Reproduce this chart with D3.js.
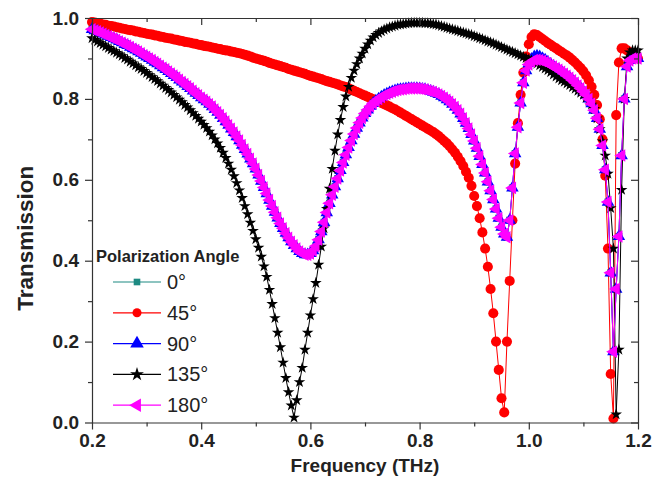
<!DOCTYPE html>
<html>
<head>
<meta charset="utf-8">
<script src="https://cdn.jsdelivr.net/npm/d3@7"></script>
<style>
body { margin: 0; background: #fff; }
svg { display: block; }
text { font-family: Arial, "Liberation Sans", sans-serif; }
</style>
</head>
<body>
<div id="chart"></div>
<script>
// frequency grid (THz)
var freq = [
0.200,0.205,0.210,0.215,0.220,0.225,0.230,0.235,0.240,0.245,
0.250,0.255,0.260,0.265,0.270,0.275,0.280,0.285,0.290,0.295,
0.300,0.305,0.310,0.315,0.320,0.325,0.330,0.335,0.340,0.345,
0.350,0.355,0.360,0.365,0.370,0.375,0.380,0.385,0.390,0.395,
0.400,0.405,0.410,0.415,0.420,0.425,0.430,0.435,0.440,0.445,
0.450,0.455,0.460,0.465,0.470,0.475,0.480,0.485,0.490,0.495,
0.500,0.505,0.510,0.515,0.520,0.525,0.530,0.535,0.540,0.545,
0.550,0.555,0.560,0.565,0.570,0.575,0.580,0.585,0.590,0.595,
0.600,0.605,0.610,0.615,0.620,0.625,0.630,0.635,0.640,0.645,
0.650,0.655,0.660,0.665,0.670,0.675,0.680,0.685,0.690,0.695,
0.700,0.705,0.710,0.715,0.720,0.725,0.730,0.735,0.740,0.745,
0.750,0.755,0.760,0.765,0.770,0.775,0.780,0.785,0.790,0.795,
0.800,0.805,0.810,0.815,0.820,0.825,0.830,0.835,0.840,0.845,
0.850,0.855,0.860,0.865,0.870,0.875,0.880,0.885,0.890,0.895,
0.900,0.905,0.910,0.915,0.920,0.925,0.930,0.935,0.940,0.945,
0.950,0.955,0.960,0.965,0.970,0.975,0.980,0.985,0.990,0.995,
1.000,1.005,1.010,1.015,1.020,1.025,1.030,1.035,1.040,1.045,
1.050,1.055,1.060,1.065,1.070,1.075,1.080,1.085,1.090,1.095,
1.100,1.105,1.110,1.115,1.120,1.125,1.130,1.135,1.140,1.145,
1.150,1.155,1.160,1.165,1.170,1.175,1.180,1.185,1.190,1.195,
1.200];

// 0 deg
var t0 = [
0.972,0.969,0.967,0.964,0.961,0.958,0.955,0.952,0.949,0.946,
0.942,0.939,0.935,0.932,0.928,0.924,0.921,0.917,0.913,0.908,
0.904,0.900,0.896,0.891,0.887,0.882,0.877,0.873,0.868,0.863,
0.858,0.853,0.847,0.842,0.837,0.831,0.826,0.820,0.814,0.809,
0.803,0.798,0.793,0.787,0.781,0.774,0.767,0.760,0.752,0.744,
0.735,0.726,0.717,0.707,0.697,0.686,0.675,0.664,0.652,0.640,
0.627,0.612,0.597,0.581,0.566,0.550,0.535,0.520,0.506,0.492,
0.480,0.468,0.457,0.447,0.438,0.430,0.423,0.418,0.415,0.415,
0.418,0.425,0.436,0.452,0.472,0.495,0.519,0.542,0.563,0.583,
0.603,0.623,0.643,0.662,0.680,0.697,0.713,0.728,0.741,0.753,
0.764,0.773,0.782,0.789,0.795,0.800,0.805,0.809,0.812,0.815,
0.818,0.820,0.822,0.823,0.824,0.825,0.826,0.826,0.826,0.826,
0.825,0.824,0.823,0.821,0.819,0.817,0.814,0.811,0.807,0.803,
0.798,0.793,0.787,0.780,0.772,0.763,0.752,0.740,0.727,0.712,
0.696,0.678,0.658,0.638,0.617,0.595,0.573,0.551,0.528,0.505,
0.483,0.466,0.458,0.500,0.580,0.665,0.730,0.790,0.840,0.870,
0.888,0.898,0.904,0.906,0.904,0.900,0.896,0.891,0.886,0.881,
0.876,0.872,0.867,0.862,0.857,0.852,0.846,0.840,0.833,0.826,
0.818,0.810,0.800,0.788,0.772,0.752,0.725,0.685,0.625,0.545,
0.370,0.175,0.330,0.460,0.660,0.800,0.880,0.895,0.900,0.900,
0.900];

// 45 deg
var t45 = [
0.990,0.989,0.987,0.986,0.984,0.983,0.981,0.980,0.979,0.977,
0.976,0.974,0.973,0.971,0.970,0.969,0.967,0.966,0.964,0.963,
0.961,0.960,0.959,0.957,0.956,0.954,0.953,0.951,0.950,0.949,
0.947,0.946,0.944,0.943,0.941,0.940,0.939,0.937,0.936,0.934,
0.933,0.931,0.930,0.929,0.927,0.926,0.924,0.923,0.921,0.920,
0.919,0.917,0.916,0.914,0.913,0.911,0.909,0.907,0.905,0.902,
0.900,0.898,0.896,0.894,0.892,0.889,0.887,0.885,0.883,0.881,
0.879,0.877,0.874,0.872,0.870,0.868,0.866,0.864,0.862,0.859,
0.857,0.855,0.853,0.851,0.849,0.846,0.844,0.842,0.840,0.838,
0.836,0.833,0.831,0.829,0.826,0.823,0.820,0.817,0.814,0.811,
0.808,0.805,0.802,0.799,0.796,0.793,0.790,0.787,0.784,0.781,
0.777,0.774,0.770,0.766,0.762,0.758,0.754,0.750,0.746,0.742,
0.738,0.734,0.730,0.726,0.722,0.718,0.713,0.708,0.702,0.696,
0.690,0.683,0.675,0.667,0.657,0.646,0.634,0.620,0.605,0.585,
0.560,0.535,0.505,0.470,0.430,0.385,0.330,0.270,0.200,0.130,
0.060,0.025,0.200,0.350,0.500,0.640,0.740,0.810,0.865,0.905,
0.935,0.953,0.960,0.958,0.953,0.948,0.943,0.938,0.934,0.929,
0.925,0.920,0.916,0.911,0.907,0.902,0.896,0.890,0.883,0.876,
0.868,0.858,0.846,0.830,0.810,0.785,0.750,0.700,0.610,0.430,
0.120,0.010,0.760,0.890,0.925,0.925,0.920,0.915,0.910,0.905,
0.900];

// 90 deg
var t90 = [
0.972,0.969,0.967,0.964,0.961,0.958,0.955,0.952,0.949,0.946,
0.942,0.939,0.935,0.932,0.928,0.924,0.921,0.917,0.913,0.908,
0.904,0.900,0.896,0.891,0.887,0.882,0.877,0.873,0.868,0.863,
0.858,0.853,0.847,0.842,0.837,0.831,0.826,0.820,0.814,0.809,
0.803,0.798,0.793,0.787,0.781,0.774,0.767,0.760,0.752,0.744,
0.735,0.726,0.717,0.707,0.697,0.686,0.675,0.664,0.652,0.640,
0.627,0.612,0.597,0.581,0.566,0.550,0.535,0.520,0.506,0.492,
0.480,0.468,0.457,0.447,0.438,0.430,0.423,0.418,0.415,0.415,
0.418,0.425,0.436,0.452,0.472,0.495,0.519,0.542,0.563,0.583,
0.603,0.623,0.643,0.662,0.680,0.697,0.713,0.728,0.741,0.753,
0.764,0.773,0.782,0.789,0.795,0.800,0.805,0.809,0.812,0.815,
0.818,0.820,0.822,0.823,0.824,0.825,0.826,0.826,0.826,0.826,
0.825,0.824,0.823,0.821,0.819,0.817,0.814,0.811,0.807,0.803,
0.798,0.793,0.787,0.780,0.772,0.763,0.752,0.740,0.727,0.712,
0.696,0.678,0.658,0.638,0.617,0.595,0.573,0.551,0.528,0.505,
0.483,0.466,0.458,0.500,0.580,0.665,0.730,0.790,0.840,0.870,
0.888,0.898,0.904,0.906,0.904,0.900,0.896,0.891,0.886,0.881,
0.876,0.872,0.867,0.862,0.857,0.852,0.846,0.840,0.833,0.826,
0.818,0.810,0.800,0.788,0.772,0.752,0.725,0.685,0.625,0.545,
0.370,0.175,0.330,0.460,0.660,0.800,0.880,0.895,0.900,0.900,
0.900];

// 135 deg
var t135 = [
0.950,0.946,0.942,0.938,0.934,0.930,0.926,0.922,0.918,0.914,
0.910,0.906,0.901,0.897,0.892,0.888,0.883,0.878,0.874,0.869,
0.864,0.859,0.854,0.849,0.844,0.838,0.833,0.827,0.822,0.816,
0.810,0.804,0.798,0.792,0.785,0.779,0.772,0.765,0.758,0.751,
0.744,0.736,0.728,0.719,0.710,0.700,0.690,0.679,0.667,0.654,
0.640,0.625,0.609,0.592,0.574,0.555,0.535,0.515,0.494,0.474,
0.453,0.432,0.410,0.386,0.360,0.328,0.293,0.258,0.222,0.186,
0.148,0.110,0.075,0.042,0.012,0.055,0.100,0.135,0.180,0.222,
0.265,0.305,0.345,0.390,0.435,0.480,0.528,0.578,0.627,0.672,
0.712,0.748,0.780,0.806,0.830,0.852,0.870,0.886,0.900,0.912,
0.924,0.935,0.944,0.952,0.958,0.963,0.967,0.971,0.974,0.977,
0.979,0.981,0.983,0.984,0.985,0.986,0.987,0.988,0.988,0.988,
0.988,0.988,0.987,0.987,0.986,0.985,0.984,0.982,0.980,0.978,
0.976,0.974,0.972,0.970,0.968,0.966,0.964,0.962,0.960,0.958,
0.955,0.953,0.950,0.948,0.945,0.942,0.940,0.937,0.934,0.931,
0.928,0.925,0.922,0.919,0.916,0.913,0.910,0.907,0.904,0.901,
0.898,0.895,0.891,0.887,0.883,0.879,0.875,0.871,0.866,0.860,
0.855,0.850,0.846,0.842,0.838,0.834,0.829,0.825,0.820,0.815,
0.810,0.803,0.795,0.786,0.775,0.752,0.725,0.695,0.660,0.615,
0.530,0.430,0.020,0.180,0.575,0.800,0.900,0.915,0.920,0.920,
0.920];

// 180 deg
var t180 = [
0.972,0.969,0.967,0.964,0.961,0.958,0.955,0.952,0.949,0.946,
0.942,0.939,0.935,0.932,0.928,0.924,0.921,0.917,0.913,0.908,
0.904,0.900,0.896,0.891,0.887,0.882,0.877,0.873,0.868,0.863,
0.858,0.853,0.847,0.842,0.837,0.831,0.826,0.820,0.814,0.809,
0.803,0.798,0.793,0.787,0.781,0.774,0.767,0.760,0.752,0.744,
0.735,0.726,0.717,0.707,0.697,0.686,0.675,0.664,0.652,0.640,
0.627,0.612,0.597,0.581,0.566,0.550,0.535,0.520,0.506,0.492,
0.480,0.468,0.457,0.447,0.438,0.430,0.423,0.418,0.415,0.415,
0.418,0.425,0.436,0.452,0.472,0.495,0.519,0.542,0.563,0.583,
0.603,0.623,0.643,0.662,0.680,0.697,0.713,0.728,0.741,0.753,
0.764,0.773,0.782,0.789,0.795,0.800,0.805,0.809,0.812,0.815,
0.818,0.820,0.822,0.823,0.824,0.825,0.826,0.826,0.826,0.826,
0.825,0.824,0.823,0.821,0.819,0.817,0.814,0.811,0.807,0.803,
0.798,0.793,0.787,0.780,0.772,0.763,0.752,0.740,0.727,0.712,
0.696,0.678,0.658,0.638,0.617,0.595,0.573,0.551,0.528,0.505,
0.483,0.466,0.458,0.500,0.580,0.665,0.730,0.790,0.840,0.870,
0.885,0.892,0.896,0.897,0.896,0.894,0.891,0.888,0.884,0.880,
0.876,0.872,0.867,0.862,0.857,0.852,0.846,0.840,0.833,0.826,
0.818,0.810,0.800,0.788,0.772,0.752,0.725,0.685,0.625,0.545,
0.370,0.175,0.330,0.460,0.660,0.800,0.880,0.895,0.900,0.900,
0.900];

var angleLabels = ["0°", "45°", "90°", "135°", "180°"];
var xMajor = [0.2, 0.4, 0.6, 0.8, 1.0, 1.2];
var xMinor = [0.3, 0.5, 0.7, 0.9, 1.1];
var yMajor = [0.0, 0.2, 0.4, 0.6, 0.8, 1.0];
var yMinor = [0.1, 0.3, 0.5, 0.7, 0.9];

var width = 672, height = 485;
var margin = {top: 18, right: 34, bottom: 62.5, left: 92};

var svg = d3.select("#chart").append("svg")
    .attr("width", width)
    .attr("height", height);

var x = d3.scaleLinear().domain([0.2, 1.2]).range([margin.left, width - margin.right]);
var y = d3.scaleLinear().domain([0, 1]).range([height - margin.bottom, margin.top]);

var series = [
    {values: t0,   color: "#1d8a82", shape: d3.symbolSquare,   size: 50, rot: 0},
    {values: t45,  color: "#ff0000", shape: d3.symbolCircle,   size: 80, rot: 0},
    {values: t90,  color: "#0000ff", shape: d3.symbolTriangle, size: 68, rot: 0},
    {values: t135, color: "#000000", shape: d3.symbolStar,     size: 42, rot: 0},
    {values: t180, color: "#ff00ff", shape: d3.symbolTriangle, size: 68, rot: -90}
];

var line = d3.line()
    .x(function(d, i) { return x(freq[i]) })
    .y(function(d) { return y(d) });

var plot = svg.append("g");

series.forEach(function(s) {
    plot.append("path")
        .attr("d", line(s.values))
        .attr("fill", "none")
        .attr("stroke", s.color)
        .attr("stroke-width", 1);

    plot.selectAll(null)
        .data(s.values)
        .enter().append("path")
        .attr("d", d3.symbol().type(s.shape).size(s.size))
        .attr("transform", function(d, i) {
            return "translate(" + x(freq[i]) + "," + y(d) + ") rotate(" + s.rot + ")"
        })
        .attr("fill", s.color);
});

// axes
var fmt = d3.format(".1f");
var axisColor = "#333";

function styleAxis(g) {
    g.selectAll("path, line").attr("stroke", axisColor).attr("stroke-width", 1.2);
    g.selectAll("text")
        .attr("fill", "#222")
        .style("font-size", "19px")
        .style("font-weight", "bold");
}

svg.append("g")
    .attr("transform", "translate(0," + y(0) + ")")
    .call(d3.axisBottom(x).tickValues(xMajor).tickFormat(fmt).tickSizeInner(7).tickSizeOuter(0).tickPadding(4))
    .call(styleAxis)
    .attr("font-family", null);

svg.append("g")
    .attr("transform", "translate(0," + y(0) + ")")
    .call(d3.axisBottom(x).tickValues(xMinor).tickFormat("").tickSize(4))
    .call(styleAxis)
    .select(".domain").remove();

svg.append("g")
    .attr("transform", "translate(" + x(0.2) + ",0)")
    .call(d3.axisLeft(y).tickValues(yMajor).tickFormat(fmt).tickSizeInner(7).tickSizeOuter(0).tickPadding(6))
    .call(styleAxis)
    .attr("font-family", null);

svg.append("g")
    .attr("transform", "translate(" + x(0.2) + ",0)")
    .call(d3.axisLeft(y).tickValues(yMinor).tickFormat("").tickSize(4))
    .call(styleAxis)
    .select(".domain").remove();

// mirrored top / right axes, ticks pointing inward
svg.append("g")
    .attr("transform", "translate(0," + y(1) + ")")
    .call(d3.axisTop(x).tickValues(xMajor).tickFormat("").tickSizeInner(-7).tickSizeOuter(0))
    .call(styleAxis);

svg.append("g")
    .attr("transform", "translate(0," + y(1) + ")")
    .call(d3.axisTop(x).tickValues(xMinor).tickFormat("").tickSize(-4))
    .call(styleAxis)
    .select(".domain").remove();

svg.append("g")
    .attr("transform", "translate(" + x(1.2) + ",0)")
    .call(d3.axisRight(y).tickValues(yMajor).tickFormat("").tickSizeInner(-7).tickSizeOuter(0))
    .call(styleAxis);

svg.append("g")
    .attr("transform", "translate(" + x(1.2) + ",0)")
    .call(d3.axisRight(y).tickValues(yMinor).tickFormat("").tickSize(-4))
    .call(styleAxis)
    .select(".domain").remove();

// axis titles
svg.append("text")
    .attr("x", (x(0.2) + x(1.2)) / 2)
    .attr("y", 472)
    .attr("text-anchor", "middle")
    .style("font-size", "19px")
    .style("font-weight", "bold")
    .attr("fill", "#222")
    .text("Frequency (THz)");

svg.append("text")
    .attr("transform", "translate(33," + ((y(0) + y(1)) / 2 + 18) + ") rotate(-90)")
    .attr("text-anchor", "middle")
    .style("font-size", "22.5px")
    .style("font-weight", "bold")
    .attr("fill", "#222")
    .text("Transmission");

// legend
var legend = svg.append("g");

legend.append("text")
    .attr("x", 96)
    .attr("y", 262)
    .style("font-size", "16.5px")
    .style("font-weight", "bold")
    .attr("fill", "#222")
    .text("Polarization Angle");

var legendSize = [44, 64, 80, 60, 80];

series.forEach(function(s, i) {
    var ly = 282 + i * 30.8;
    legend.append("line")
        .attr("x1", 113).attr("x2", 161)
        .attr("y1", ly).attr("y2", ly)
        .attr("stroke", s.color)
        .attr("stroke-width", 1.2);
    legend.append("path")
        .attr("d", d3.symbol().type(s.shape).size(legendSize[i]))
        .attr("transform", "translate(137," + ly + ") rotate(" + s.rot + ")")
        .attr("fill", s.color);
    legend.append("text")
        .attr("x", 167)
        .attr("y", ly + 7)
        .style("font-size", "20px")
        .attr("fill", "#222")
        .text(angleLabels[i]);
});
</script>
</body>
</html>
